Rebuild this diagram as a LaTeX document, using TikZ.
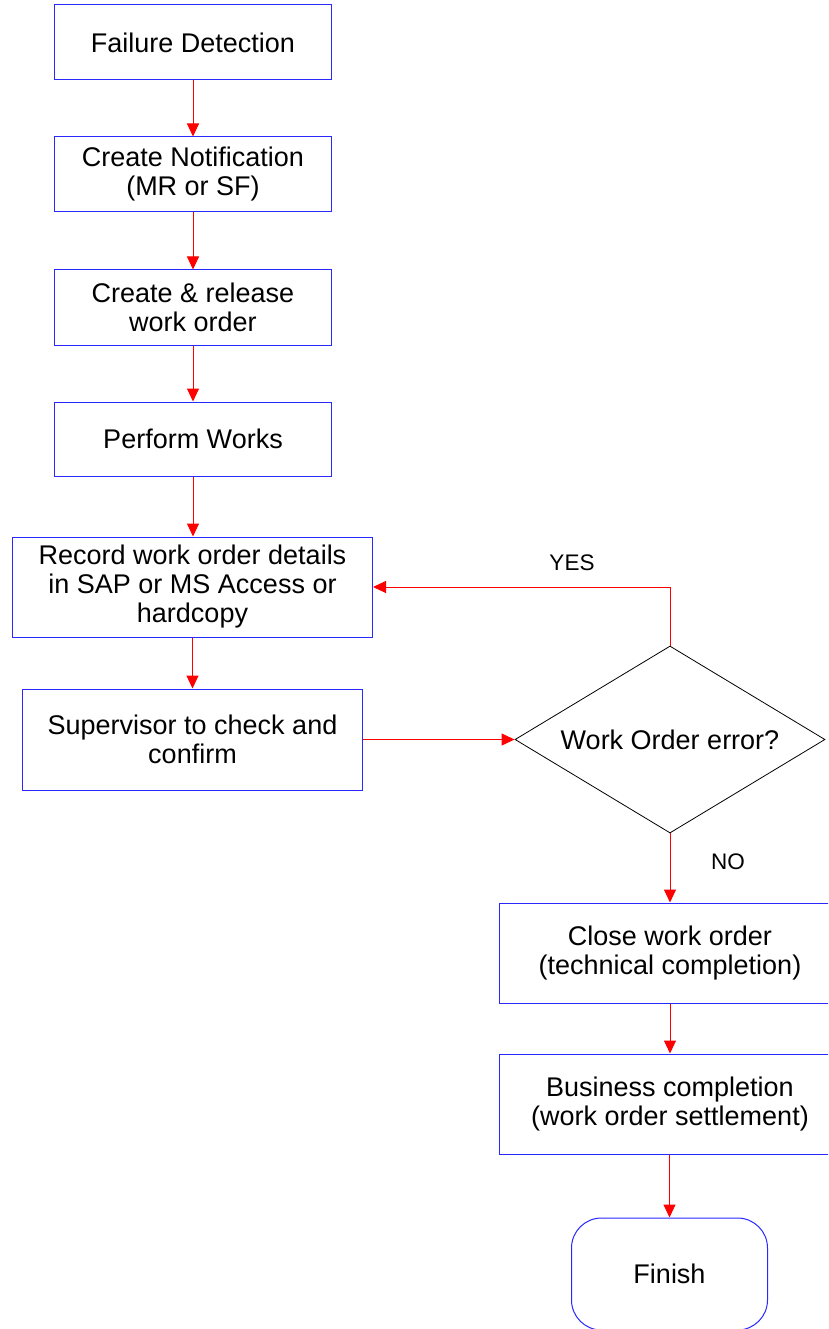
\documentclass[tikz,border=0pt]{standalone}
\usepackage{fontspec}
\setmainfont{Liberation Sans}
\usetikzlibrary{shapes.geometric,arrows.meta}
\definecolor{boxblue}{RGB}{40,40,255}
\definecolor{linkred}{RGB}{255,0,0}
\tikzset{
  stepbox/.style={draw=boxblue, line width=1pt, rectangle, inner sep=0pt,
    align=center, font=\fontsize{27}{29}\selectfont},
  decision/.style={draw=black, line width=0.8pt, diamond, shape aspect=1.66,
    inner sep=0pt, align=center, font=\fontsize{27}{29}\selectfont},
  terminal/.style={draw=boxblue, line width=1pt, rectangle, rounded corners=30pt,
    inner sep=0pt, align=center, font=\fontsize{27}{29}\selectfont},
  link/.style={draw=linkred, line width=1pt,
    -{Triangle[length=13pt,width=12pt]}},
  tag/.style={font=\fontsize{22.5}{26}\selectfont}
}
\begin{document}
\begin{tikzpicture}[x=1pt,y=-1pt]
  \useasboundingbox (0,0) rectangle (828,1329);
  \clip (0,0) rectangle (828,1329);
  \fill[white] (0,0) rectangle (828,1329);

  % main column
  \node[stepbox, minimum width=277pt, minimum height=75pt] (detect) at (193,42.5) {Failure Detection};
  \node[stepbox, minimum width=277pt, minimum height=75pt] (notify) at (193,174.5) {Create Notification\\(MR or SF)};
  \node[stepbox, minimum width=277pt, minimum height=75pt] (release) at (193,307.5) {Create \& release\\work order};
  \node[stepbox, minimum width=277pt, minimum height=74pt] (perform) at (193,439) {Perform Works};
  \node[stepbox, minimum width=360pt, minimum height=100pt] (record) at (192.5,587) {Record work order details\\in SAP or MS Access or\\hardcopy};
  \node[stepbox, minimum width=340pt, minimum height=101pt] (superv) at (192.5,739.5) {Supervisor to check and\\confirm};

  % decision and closing column
  \node[decision, minimum width=310pt, minimum height=187pt] (check) at (670,739.5) {Work Order error?};
  \node[stepbox, minimum width=342pt, minimum height=100pt] (close) at (670,953) {Close work order\\(technical completion)};
  \node[stepbox, minimum width=342pt, minimum height=100pt] (settle) at (670,1104) {Business completion\\(work order settlement)};
  \node[terminal, minimum width=196pt, minimum height=112pt] (finish) at (669.5,1274) {Finish};

  % connectors
  \draw[link] (detect) -- (notify);
  \draw[link] (notify) -- (release);
  \draw[link] (release) -- (perform);
  \draw[link] (perform.south) -- (perform.south |- record.north);
  \draw[link] (record) -- (superv);
  \draw[link] (superv) -- (check);
  \draw[link] (check.north) |- (record.east);
  \draw[link] (check) -- (close);
  \draw[link] (close) -- (settle);
  \draw[link] (settle.south -| finish.north) -- (finish.north);

  % branch labels
  \node[tag] (yes) at (572,563) {YES};
  \node[tag] (no) at (728,862) {NO};
\end{tikzpicture}
\end{document}
